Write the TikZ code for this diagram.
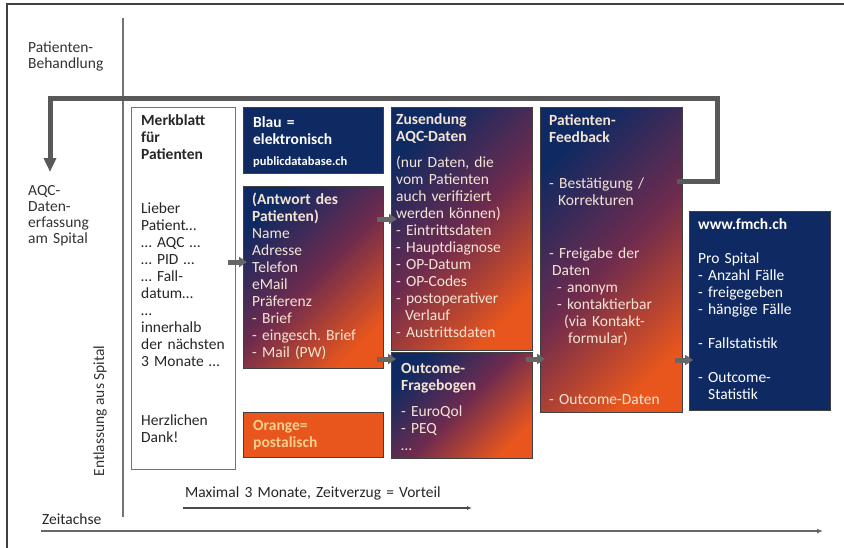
\documentclass[tikz,border=0pt]{standalone}
\usepackage{fontspec}
\setmainfont{Carlito}
\usetikzlibrary{calc}
\usetikzlibrary{arrows.meta}
\frenchspacing

\definecolor{navyblue}{HTML}{0F2A62}
\definecolor{postorange}{HTML}{E8561D}
\definecolor{midplum}{HTML}{6E2B4E}
\definecolor{creamtext}{HTML}{F4E4D4}
\definecolor{orangetext}{HTML}{F6D08C}
\definecolor{arrowgray}{HTML}{666666}

\begin{document}
\begin{tikzpicture}[x=1pt,y=-1pt,
    txt/.style={anchor=base west, inner sep=0pt, text width=#1, align=left, font=\fontsize{15.5}{17}\selectfont},
    txt/.default=135pt,
    side/.style={txt=90pt, text=black!80, font=\fontsize{15.5}{16.2}\selectfont},
    box/.style={anchor=north west, inner sep=0pt, draw=black!75, line width=0.9pt},
    bluebox/.style={box, fill=navyblue},
    gradbox/.style={box, top color=navyblue, bottom color=postorange, middle color=midplum, shading angle=45},
    blockarrow/.style={arrowgray, line width=5pt, -{Triangle[length=8pt,width=10pt]}},
  ]
    \useasboundingbox (0,0) rectangle (844,547);
    % frame and axes
    \draw[black!75, line width=1.2pt] (7,560) -- (7,4) -- (860,4);
    \draw[black!55, line width=1.3pt] (123,18) -- (123,517);

    % side labels
    \node[side] (behandlung) at (28,52) {Patienten-\\Behandlung};
    \node[side] (erfassung) at (28,195) {AQC-\\Daten-\\erfassung\\am Spital};
    \node[rotate=90, inner sep=0pt, text=black!80, font=\fontsize{15.5}{17}\selectfont] (entlassung) at (100,411) {Entlassung aus Spital};

    % boxes
    \node[box, draw=black!55, fill=white, minimum width=104, minimum height=362] (merk) at (131,107) {};
    \node[bluebox, minimum width=140, minimum height=66] (blau) at (243,107) {};
    \node[gradbox, minimum width=140, minimum height=182] (antw) at (243,186) {};
    \node[box, fill=postorange, minimum width=140, minimum height=45] (orange) at (243,412) {};
    \node[gradbox, minimum width=141, minimum height=243] (zus) at (391,107) {};
    \node[gradbox, minimum width=141, minimum height=106] (outc) at (391,352) {};
    \node[gradbox, minimum width=142, minimum height=305] (feed) at (540,107) {};
    \node[bluebox, minimum width=141, minimum height=199] (fmch) at (689,211) {};

    % feedback loop
    \coordinate (loopcorner) at (717,98);
    \coordinate (aqcin) at (50,172);
    \draw[black!65, line width=5pt, -{Triangle[length=14pt,width=12pt]}] ($(feed.east|-0,181)+(-6,0)$) -| (loopcorner) -| (aqcin);

    % block arrows
    \draw[blockarrow] ($(merk.east|-0,262)+(-8,0)$) -- ($(antw.west|-0,262)+(4,0)$);
    \draw[blockarrow] ($(antw.east|-0,219)+(-7,0)$) -- ($(zus.west|-0,219)+(6,0)$);
    \draw[blockarrow] ($(antw.east|-0,359)+(-7,0)$) -- ($(outc.west|-0,359)+(5,0)$);
    \draw[blockarrow] ($(outc.east|-0,359)+(-7,0)$) -- ($(feed.west|-0,359)+(5,0)$);
    \draw[blockarrow] ($(feed.east|-0,360)+(-8,0)$) -- ($(fmch.west|-0,360)+(4,0)$);

    % texts
    \node[txt=92pt, text=black!85] (merkhead) at (141,125) {\bfseries Merkblatt\\für\\Patienten};
    \node[txt=92pt, text=black!85] (merkbody) at (141,213) {Lieber\\Patient…\\… AQC …\\… PID …\\… Fall-\\datum…\\…\\innerhalb\\der nächsten\\3 Monate …};
    \node[txt=92pt, text=black!85] (merkdank) at (141,425) {Herzlichen\\Dank!};

    \node[txt, text=white] (blautext) at (253,127) {\bfseries Blau =\\elektronisch};
    \node[txt, text=white, font=\fontsize{12.5}{14}\selectfont\bfseries] (publicdb) at (253,165) {publicdatabase.ch};

    \node[txt, text=creamtext] (antwtext) at (252,204) {\textbf{(Antwort des}\\\textbf{Patienten)}\\Name\\Adresse\\Telefon\\eMail\\Präferenz\\- Brief\\- eingesch. Brief\\- Mail (PW)};
    \node[txt, text=orangetext] (orangetxt) at (253,430) {\bfseries Orange=\\postalisch};

    \node[txt, text=creamtext] (zustext) at (396,124) {\textbf{Zusendung}\\\textbf{AQC-Daten}\\[9pt](nur Daten, die\\vom Patienten\\auch verifiziert\\werden können)\\- Eintrittsdaten\\- Hauptdiagnose\\- OP-Datum\\- OP-Codes\\- postoperativer\\\hspace*{9pt}Verlauf\\- Austrittsdaten};
    \node[txt, text=creamtext] (outctext) at (401,373) {\textbf{Outcome-}\\\textbf{Fragebogen}\\[9pt]- EuroQol\\- PEQ\\…};

    \node[txt, text=creamtext] (feedhead) at (549,125) {\bfseries Patienten-\\Feedback};
    \node[txt, text=creamtext] (feedbody) at (549,188) {- Bestätigung /\\\hspace*{9pt}Korrekturen\\[36pt]- Freigabe der\\\hspace*{3pt}Daten\\\hspace*{8pt}- anonym\\\hspace*{8pt}- kontaktierbar\\\hspace*{15pt}(via Kontakt-\\\hspace*{19pt}formular)\\[44pt]- Outcome-Daten};

    \node[txt, text=white] (fmchtext) at (698,229) {\textbf{www.fmch.ch}\\[17pt]Pro Spital\\- Anzahl Fälle\\- freigegeben\\- hängige Fälle\\[17pt]- Fallstatistik\\[17pt]- Outcome-\\\hspace*{10pt}Statistik};

    % time axes
    \node[txt=260pt, text=black!85] (maximal) at (185,497) {Maximal 3 Monate, Zeitverzug = Vorteil};
    \coordinate (delaystart) at (183,508);
    \coordinate (delayend) at (472,508);
    \draw[black!70, line width=1.3pt, -{Latex[length=5pt,width=4pt]}] (delaystart) -- (delayend);
    \node[txt=80pt, text=black!85] (zeitachse) at (42,524) {Zeitachse};
    \coordinate (timestart) at (41,531);
    \coordinate (timeend) at (823,531);
    \draw[black!60, line width=1.8pt, -{Latex[length=6pt,width=5pt]}] (timestart) -- (timeend);
\end{tikzpicture}
\end{document}
